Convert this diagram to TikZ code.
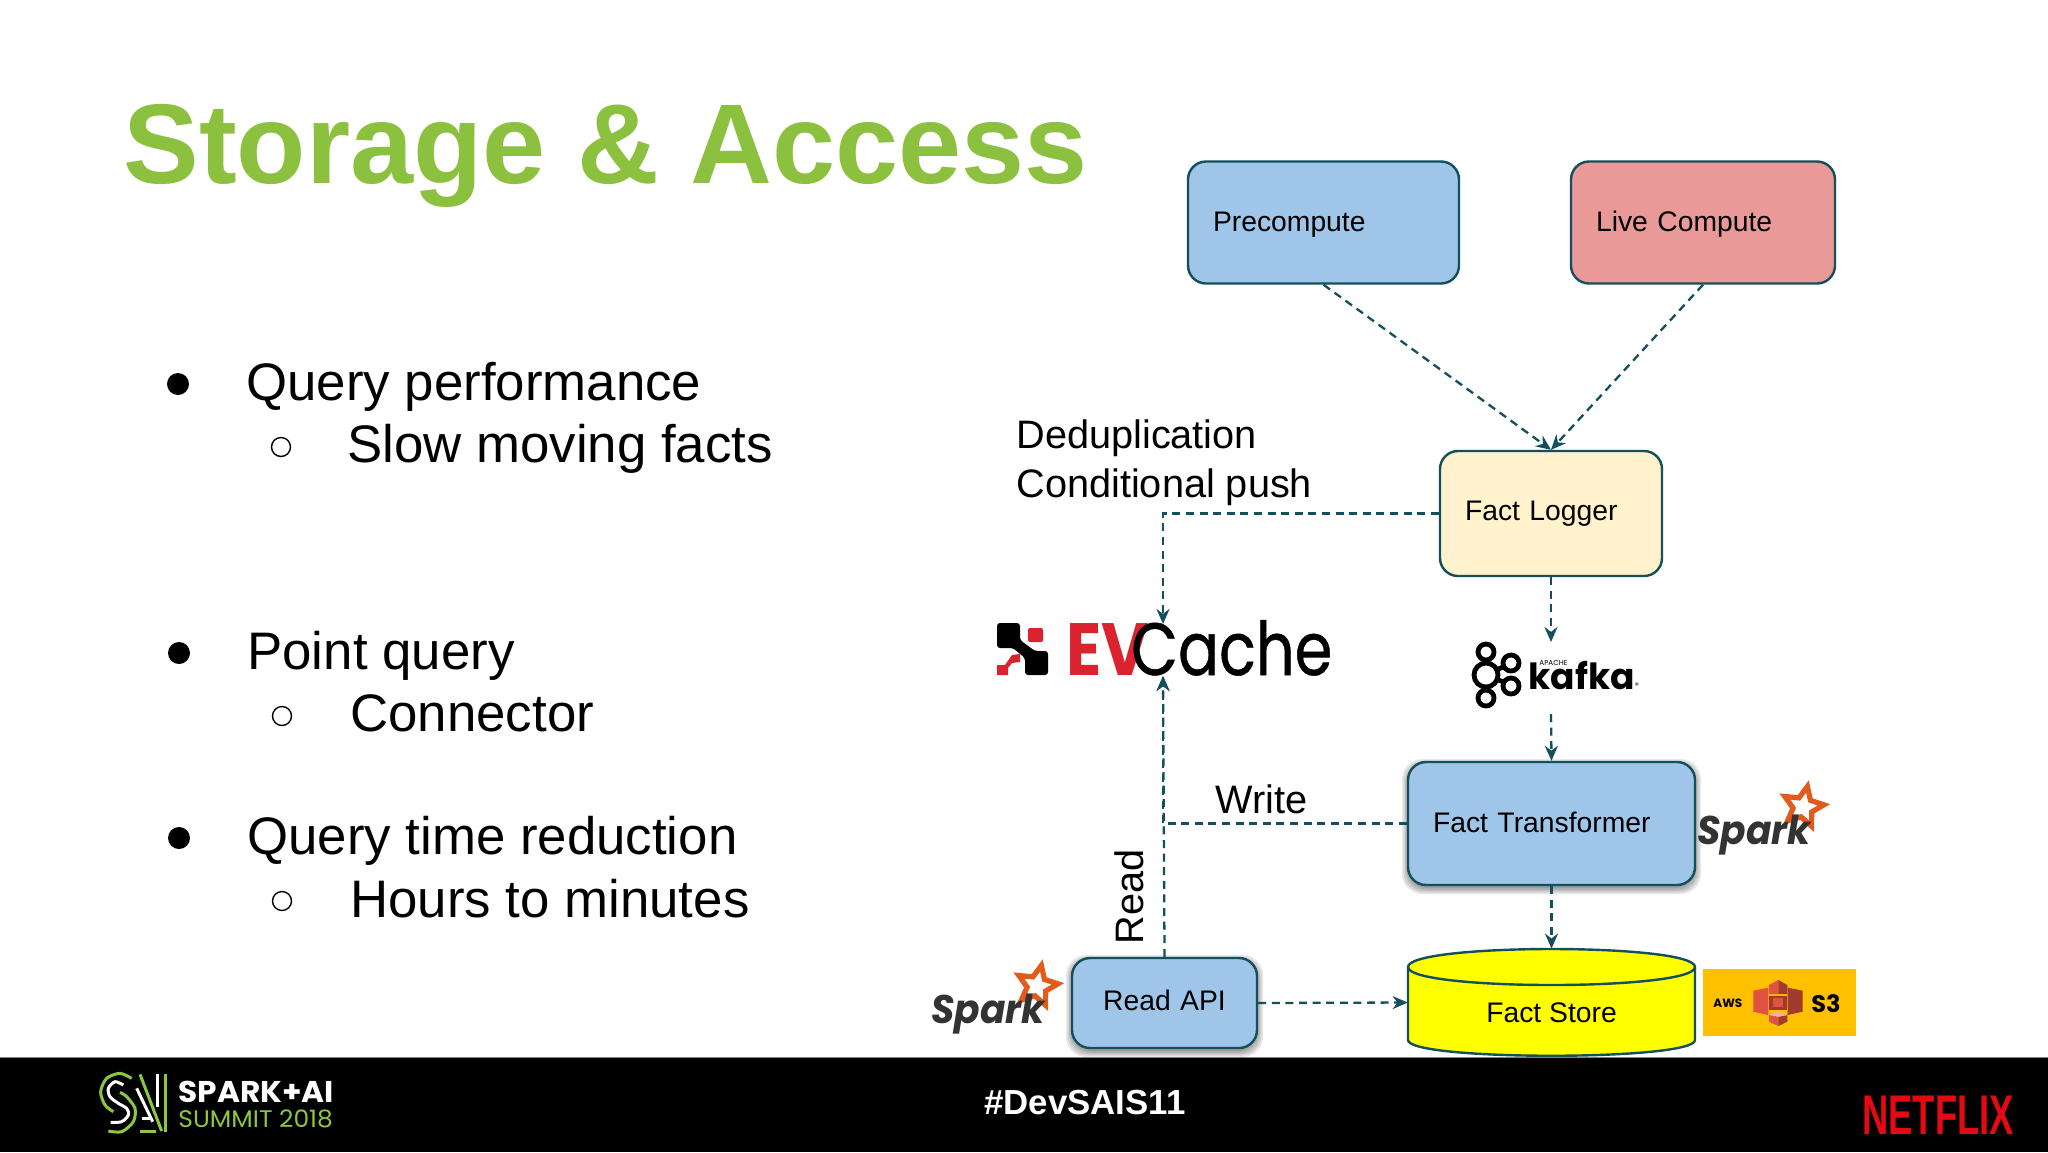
\documentclass[tikz,border=0pt]{standalone}
\usepackage{graphicx}
\usepackage{fontspec}
\setmainfont{Liberation Sans}
\newfontfamily\logof{Poppins}
\newfontfamily\logomed[FakeBold=0.7]{Poppins}
\usetikzlibrary{arrows.meta,shapes.geometric,calc}
\definecolor{edge}{HTML}{134F5C}
\definecolor{bluebox}{HTML}{9FC5E8}
\definecolor{redbox}{HTML}{EA9999}
\definecolor{creambox}{HTML}{FFF2CC}
\definecolor{storeyellow}{HTML}{FFFF00}
\definecolor{s3bg}{HTML}{FFC000}
\definecolor{s3light}{HTML}{E05243}
\definecolor{s3mid}{HTML}{C4473A}
\definecolor{s3dark}{HTML}{A33A2E}
\definecolor{s3pale}{HTML}{F2B0A9}
\definecolor{titlegreen}{HTML}{8CC13F}
\definecolor{sparkorange}{HTML}{E25A1C}
\definecolor{sparkgray}{HTML}{333333}
\definecolor{evred}{HTML}{D9232E}
\definecolor{nflx}{HTML}{E50914}
\definecolor{saigreen}{HTML}{8DC63F}
\newcommand{\fsz}[1]{\fontsize{#1pt}{#1pt}\selectfont}
\newcommand{\softshadow}[4]{%
  \foreach \g in {0,1.5,3,4.5,6}{
    \fill[black,opacity=.09,rounded corners=10pt] (#1-\g,#2+3-\g) rectangle (#3+\g,#4+3+\g);
  }}
\tikzset{
  x=0.5pt,y=-0.5pt,
  box/.style={draw=edge,line width=1.2pt,rounded corners=9pt,align=left,inner xsep=12.5pt,inner ysep=0pt,font=\fsz{14.15}},
  conn/.style={draw=edge,line width=1.15pt,dash pattern=on 4pt off 2.8pt,-{Stealth[length=7.5pt,width=6.5pt]}},
  bigtxt/.style={anchor=base west,inner sep=0pt,font=\fsz{19.85}},
  bullettxt/.style={anchor=base west,inner sep=0pt,font=\fsz{26.4}},
  dotA/.style={circle,fill=black,inner sep=0pt,minimum size=11pt},
  dotB/.style={circle,draw=black,line width=.7pt,inner sep=0pt,minimum size=9.5pt},
  pics/sparklogo/.style={code={
    \node[star,star points=5,star point ratio=2.1,draw=sparkorange,line width=2.6pt,minimum size=21pt,inner sep=0pt,rotate=-12] (-star) at (106,-37) {};
    \node[anchor=base west,inner sep=0pt,text=sparkgray,font=\logof\bfseries\itshape\fsz{20}] (-txt) at (0,0) {\scalebox{.94}[1]{Spark}};
  }}
}
\begin{document}
\begin{tikzpicture}
\useasboundingbox (0,0) rectangle (2048,1152);
\fill[white] (0,0) rectangle (2048,1152);

% title and bullets
\node[anchor=base west,inner sep=0pt,text=titlegreen,font=\bfseries\fsz{56.7}] (title) at (123,183) {Storage \& Access};
\node[dotA] (b1) at (178,384) {};
\node[bullettxt] (t1) at (246,400) {Query performance};
\node[dotB] (b1s) at (281,447) {};
\node[bullettxt] (t1s) at (347,462) {Slow moving facts};
\node[dotA] (b2) at (179,653) {};
\node[bullettxt] (t2) at (247,669) {Point query};
\node[dotB] (b2s) at (282,716) {};
\node[bullettxt] (t2s) at (350,731) {Connector};
\node[dotA] (b3) at (179,838) {};
\node[bullettxt] (t3) at (247,854) {Query time reduction};
\node[dotB] (b3s) at (282,901) {};
\node[bullettxt] (t3s) at (350,917) {Hours to minutes};

% soft shadows under the raised boxes
\softshadow{1408}{762}{1695}{885}
\softshadow{1072}{958}{1257}{1048}

% boxes
\node[box,fill=bluebox,minimum width=135.5pt,text width=110.5pt,minimum height=61pt,text height=11.5pt] (pre) at (1323.5,222.5) {Precompute};
\node[box,fill=redbox,minimum width=132pt,text width=107pt,minimum height=61pt,text height=11.5pt] (live) at (1703,222.5) {Live Compute};
\node[box,fill=creambox,minimum width=111pt,text width=86pt,minimum height=62.5pt] (logger) at (1551,513.5) {Fact Logger};
\node[box,fill=bluebox,minimum width=143.5pt,text width=118.5pt,minimum height=61.5pt,text depth=1.3pt] (ft) at (1551.5,823.5) {Fact Transformer};
\node[box,fill=bluebox,minimum width=92.5pt,text width=67.5pt,minimum height=45pt,align=center,text depth=2.6pt] (read) at (1164.5,1003) {Read API};

% cylinder
\draw[edge,fill=storeyellow,line width=1.2pt] (1408,967) .. controls (1408,943) and (1695,943) .. (1695,967) -- (1695,1040) .. controls (1695,1061) and (1408,1061) .. (1408,1040) -- cycle;
\draw[edge,line width=1.2pt] (1408,967) .. controls (1408,991) and (1695,991) .. (1695,967);
\node[inner sep=0pt,minimum width=143.5pt,minimum height=53.5pt] (store) at (1551.5,1002.5) {};
\node[inner sep=0pt,font=\fsz{14.15}] (storetxt) at (1551.5,1013) {Fact Store};

% labels
\node[bigtxt] (dedup) at (1016,448) {Deduplication};
\node[bigtxt] (cond) at (1016,497) {Conditional push};
\node[bigtxt] (write) at (1215,813) {Write};
\node[anchor=base west,inner sep=0pt,font=\fsz{19.85},rotate=90] (readl) at (1143,945) {Read};

% EVCache logo
\fill[black,rounded corners=1.5pt] (997,623) -- (1020,623) -- (1020,640) -- (1035,651) -- (1048,651) -- (1048,675) -- (1025,675) -- (1025,658) -- (1013,648) -- (997,648) -- cycle;
\fill[evred,rounded corners=1pt] (1028,628) rectangle (1043,642);
\fill[evred] (1020,654) -- (1020,662) -- (1012,663) -- (1008,668) -- (1008,675) -- (997,675) -- (997,665) -- (1005,665) -- (1012,655) -- cycle;
\node[anchor=base west,inner sep=0pt,font=\logof\fsz{37}] (ev) at (1066,675) {\scalebox{.88}[1]{\textcolor{evred}{\bfseries EV}}\kern-9pt\scalebox{.82}[1]{\logomed\fsz{37}Cache}};
\coordinate (evtop) at (1163,624);
\coordinate (evbot) at (1163,676);

% kafka logo
\begin{scope}[black,line width=2.4pt]
\draw (1486,675) -- (1486,652) (1486,675) -- (1486,698) (1486,675) -- (1511,663) (1486,675) -- (1511,685);
\draw[fill=white] (1486,675) circle[radius=12];
\draw[fill=white] (1486,652) circle[radius=8];
\draw[fill=white] (1486,698) circle[radius=8];
\draw[fill=white] (1511,663) circle[radius=8];
\draw[fill=white] (1511,686) circle[radius=8];
\end{scope}
\node[anchor=base west,inner sep=0pt,font=\logof\bfseries\fsz{18}] (kafka) at (1528,689) {kafka};
\node[anchor=base west,inner sep=0pt,font=\logof\fsz{3.6}] (apache) at (1539,665) {APACHE};
\node[inner sep=0pt,font=\logof\fsz{4}] (reg) at (1637,686) {\textregistered};
\coordinate (kafkatop) at (1551,642);
\coordinate (kafkabot) at (1551,714);

% spark logos
\pic (sp1) at (931,1023) {sparklogo};
\pic (sp2) at (1697,844) {sparklogo};

% S3 logo
\fill[s3bg] (1703,969) rectangle (1856,1036);
\node[anchor=base west,inner sep=0pt,font=\logof\bfseries\fsz{6}] (aws) at (1713,1007) {AWS};
\node[anchor=base west,inner sep=0pt,font=\logof\bfseries\fsz{12}] (s3) at (1811,1012) {S3};
\begin{scope}[shift={(1690,960)},x=0.1667pt,y=-0.1667pt]
\fill[s3light] (190,92) -- (235,83) -- (235,165) -- (190,155) -- cycle;
\fill[s3dark] (293,83) -- (338,92) -- (338,155) -- (293,165) -- cycle;
\fill[s3light] (237,75) -- (265,60) -- (265,102) -- (237,102) -- cycle;
\fill[s3dark] (265,60) -- (292,75) -- (292,102) -- (265,102) -- cycle;
\fill[s3dark] (237,107) rectangle (292,150);
\fill[s3light] (250,115) rectangle (280,142);
\fill[s3light] (237,165) -- (265,170) -- (265,198) -- (237,185) -- cycle;
\fill[s3dark] (265,170) -- (292,165) -- (292,185) -- (265,198) -- cycle;
\fill[s3pale] (237,165) -- (265,155) -- (292,165) -- (265,170) -- cycle;
\end{scope}

% connectors
\draw[conn] (pre.south) -- (logger.north);
\draw[conn] (live.south) -- (logger.north);
\draw[conn] (logger.west) -| (evtop);
\draw[conn] (logger.south) -- (kafkatop);
\draw[conn] (kafkabot) -- (ft.north);
\draw[conn] (ft.south) -- (store.north);
\draw[conn] (ft.west) -| (evbot);
\draw[conn] (read.north) -- (evbot);
\draw[conn] (read.east) -- (store.west);

% footer
\fill[black] (0,1058) rectangle (2048,1152);
\fill[gray] (0,1057) rectangle (2048,1058);
\begin{scope}[shift={(90,1065)},x=0.1667pt,y=-0.1667pt,line width=1.5pt,line cap=butt]
\draw[saigreen] plot[smooth] coordinates {(125,40) (90,25) (50,40) (32,80) (45,120) (70,140)};
\draw[white] plot[smooth] coordinates {(100,60) (75,50) (55,70) (60,95) (85,115) (110,130) (115,150) (95,170) (62,172)};
\draw[saigreen] plot[smooth] coordinates {(55,198) (95,200) (130,170) (135,130) (110,95) (90,82)};
\draw[saigreen] (225,28) -- (225,200);
\draw[white] (202,28) -- (202,125);
\draw[saigreen] (150,28) -- (215,198);
\draw[white] (140,70) -- (188,170);
\draw[white] (155,160) -- (185,160);
\draw[saigreen] (150,200) -- (198,200);
\end{scope}
\node[anchor=base west,inner sep=0pt,text=white,font=\logof\bfseries\fsz{15}] (sparkai) at (178,1102) {\scalebox{1.04}[1]{SPARK+AI}};
\node[anchor=base west,inner sep=0pt,text=saigreen,font=\logof\fsz{12}] (summit) at (178,1127) {\scalebox{1.04}[1]{SUMMIT 2018}};
\node[anchor=base,inner sep=0pt,text=white,font=\bfseries\fsz{17.4}] (tag) at (1085,1114) {\#DevSAIS11};
\node[anchor=base west,inner sep=0pt,text=nflx,font=\bfseries\fsz{28}] (netflix) at (1862,1134) {\scalebox{.65}[1]{NETFLIX}};
\end{tikzpicture}
\end{document}
